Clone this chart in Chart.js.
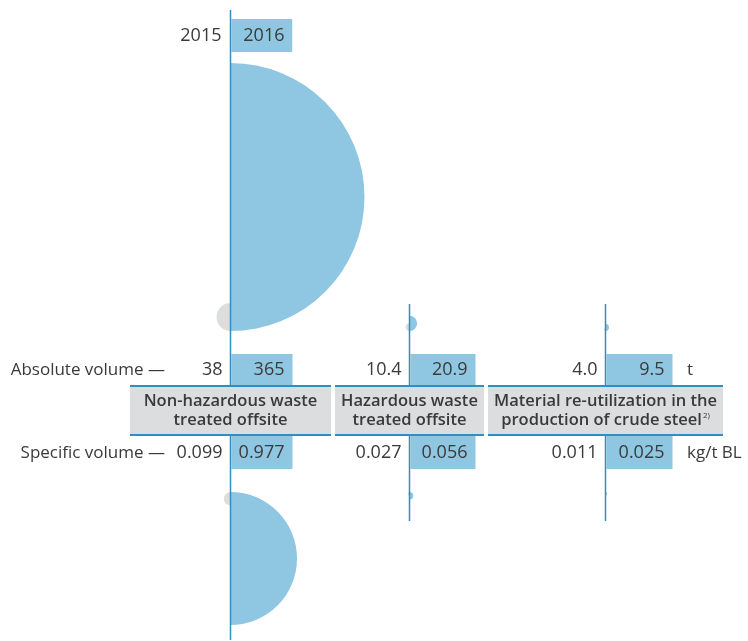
<!DOCTYPE html>
<html>
<head>
<meta charset="utf-8">
<script src="https://cdn.jsdelivr.net/npm/chart.js@4.4.1/dist/chart.umd.min.js"></script>
<style>
  html, body { margin: 0; padding: 0; background: #fff; }
</style>
</head>
<body>
<canvas id="chart" width="748" height="641"></canvas>
<script>
'use strict'

// waste figures, 2015 vs 2016
let years = ['2015', '2016'],
    categories = [
        ['Non-hazardous waste', 'treated offsite'],
        ['Hazardous waste', 'treated offsite'],
        ['Material re-utilization in the', 'production of crude steel']],
    footnotes = ['', '', '2)'],
    absolute2015 = [38, 10.4, 4.0],
    absolute2016 = [365, 20.9, 9.5],
    specific2015 = [0.099, 0.027, 0.011],
    specific2016 = [0.977, 0.056, 0.025],
    absoluteDecimals = [0, 1, 1],
    specificDecimals = [3, 3, 3],
    rowLabels = ['Absolute volume \u2014', 'Specific volume \u2014'],
    units = ['t', 'kg/t BL']

const BLUE = '#8fc6e1',
      GREY = '#dcdddf',
      LINE = '#2f8fc2',
      TEXT = '#3a3a3a',
      FONT = '"Open Sans", sans-serif'

// header cells; each column's axis sits in the middle of its cell
const cells = [
    {left: 130, right: 331, box: 62},
    {left: 335, right: 484, box: 66},
    {left: 488, right: 723, box: 67}]
const centers = cells.map(c => (c.left + c.right) / 2)

const absBase = 331, specBase = 492
const absMaxR = 134, specMaxR = 66.5

let points = function (values, maxValue, maxR, base) {
    return values.map((v, i) => ({x: centers[i], y: base, r: v / maxValue * maxR}))
}

let absMax = Math.max(...absolute2016),
    specMax = Math.max(...specific2016)

// bubbles are drawn as half discs: 2015 on the left, 2016 on the right
let halfDiscs = {
    id: 'halfDiscs',
    afterDatasetsDraw(chart) {
        const ctx = chart.ctx
        chart.data.datasets.forEach((ds, i) => {
            chart.getDatasetMeta(i).data.forEach((pt) => {
                const r = pt.options.radius
                if (!r) return
                const cy = ds.anchor === 'bottom' ? pt.y - r : pt.y + r
                ctx.save()
                ctx.beginPath()
                ctx.moveTo(pt.x, cy - r)
                ctx.arc(pt.x, cy, r, -Math.PI / 2, Math.PI / 2, ds.half === 'left')
                ctx.closePath()
                ctx.fillStyle = ds.fillColor
                ctx.fill()
                ctx.restore()
            })
        })
    }
}

let fmt = (v, d) => v.toFixed(d)

// axis lines, value boxes, headers and labels
let table = {
    id: 'table',
    afterDraw(chart) {
        const ctx = chart.ctx
        ctx.save()

        // vertical axis lines
        ctx.strokeStyle = LINE
        ctx.lineWidth = 1.5
        let vline = (x, y1, y2) => {
            ctx.beginPath()
            ctx.moveTo(x, y1)
            ctx.lineTo(x, y2)
            ctx.stroke()
        }
        vline(centers[0], 10, 386)
        vline(centers[0], 436, 640)
        for (let i = 1; i < centers.length; i++) {
            vline(centers[i], 304, 386)
            vline(centers[i], 436, 521)
        }

        // blue boxes for the 2016 values
        ctx.fillStyle = BLUE
        ctx.fillRect(centers[0] + 0.75, 19, 61, 33)
        cells.forEach((c, i) => {
            ctx.fillRect(centers[i] + 0.75, 354, c.box - 0.75, 32)
            ctx.fillRect(centers[i] + 0.75, 436, c.box - 0.75, 33)
        })

        // header cells
        cells.forEach((c) => {
            ctx.fillStyle = GREY
            ctx.fillRect(c.left, 386, c.right - c.left, 49)
            ctx.fillStyle = LINE
            ctx.fillRect(c.left, 385, c.right - c.left, 2)
            ctx.fillRect(c.left, 434, c.right - c.left, 2)
        })

        ctx.fillStyle = TEXT
        ctx.textBaseline = 'middle'

        // year labels
        ctx.font = '18px ' + FONT
        ctx.textAlign = 'right'
        ctx.fillText(years[0], centers[0] - 9, 36)
        ctx.fillText(years[1], centers[0] + 62 - 8, 36)

        // row labels
        ctx.font = '17px ' + FONT
        ctx.fillText(rowLabels[0], 165, 370)
        ctx.fillText(rowLabels[1], 165, 453)

        // values
        ctx.font = '18px ' + FONT
        cells.forEach((c, i) => {
            ctx.fillText(fmt(absolute2015[i], absoluteDecimals[i]), centers[i] - 8, 370)
            ctx.fillText(fmt(absolute2016[i], absoluteDecimals[i]), centers[i] + c.box - 8, 370)
            ctx.fillText(fmt(specific2015[i], specificDecimals[i]), centers[i] - 8, 453)
            ctx.fillText(fmt(specific2016[i], specificDecimals[i]), centers[i] + c.box - 8, 453)
        })

        // units
        ctx.textAlign = 'left'
        ctx.font = '17px ' + FONT
        ctx.fillText(units[0], 687, 370)
        ctx.fillText(units[1], 687, 453)

        // category headers
        const headFont = '600 16.5px ' + FONT
        categories.forEach((lines, i) => {
            lines.forEach((line, j) => {
                const y = 401 + j * 19.5
                const note = j === lines.length - 1 ? footnotes[i] : ''
                ctx.font = headFont
                const w = ctx.measureText(line).width
                ctx.font = '8px ' + FONT
                const nw = note ? ctx.measureText(note).width + 1 : 0
                const x0 = centers[i] - (w + nw) / 2
                ctx.font = headFont
                ctx.fillText(line, x0, y)
                if (note) {
                    ctx.font = '8px ' + FONT
                    ctx.fillText(note, x0 + w + 1, y - 5)
                }
            })
        })

        ctx.restore()
    }
}

let myChart = new Chart(document.getElementById('chart'), {
    type: 'bubble',
    data: {
        datasets: [
            {label: years[0], data: points(absolute2015, absMax, absMaxR, absBase), half: 'left', anchor: 'bottom', fillColor: GREY},
            {label: years[1], data: points(absolute2016, absMax, absMaxR, absBase), half: 'right', anchor: 'bottom', fillColor: BLUE},
            {label: years[0], data: points(specific2015, specMax, specMaxR, specBase), half: 'left', anchor: 'top', fillColor: GREY},
            {label: years[1], data: points(specific2016, specMax, specMaxR, specBase), half: 'right', anchor: 'top', fillColor: BLUE}
        ].map(ds => Object.assign(ds, {backgroundColor: 'rgba(0,0,0,0)', borderWidth: 0, hoverRadius: 0, clip: false}))
    },
    options: {
        responsive: false,
        animation: false,
        events: [],
        layout: {padding: 0, autoPadding: false},
        plugins: {legend: {display: false}, tooltip: {enabled: false}},
        scales: {
            x: {type: 'linear', min: 0, max: 748, display: false},
            y: {type: 'linear', min: 0, max: 641, reverse: true, display: false}
        }
    },
    plugins: [halfDiscs, table]
})
</script>
</body>
</html>
